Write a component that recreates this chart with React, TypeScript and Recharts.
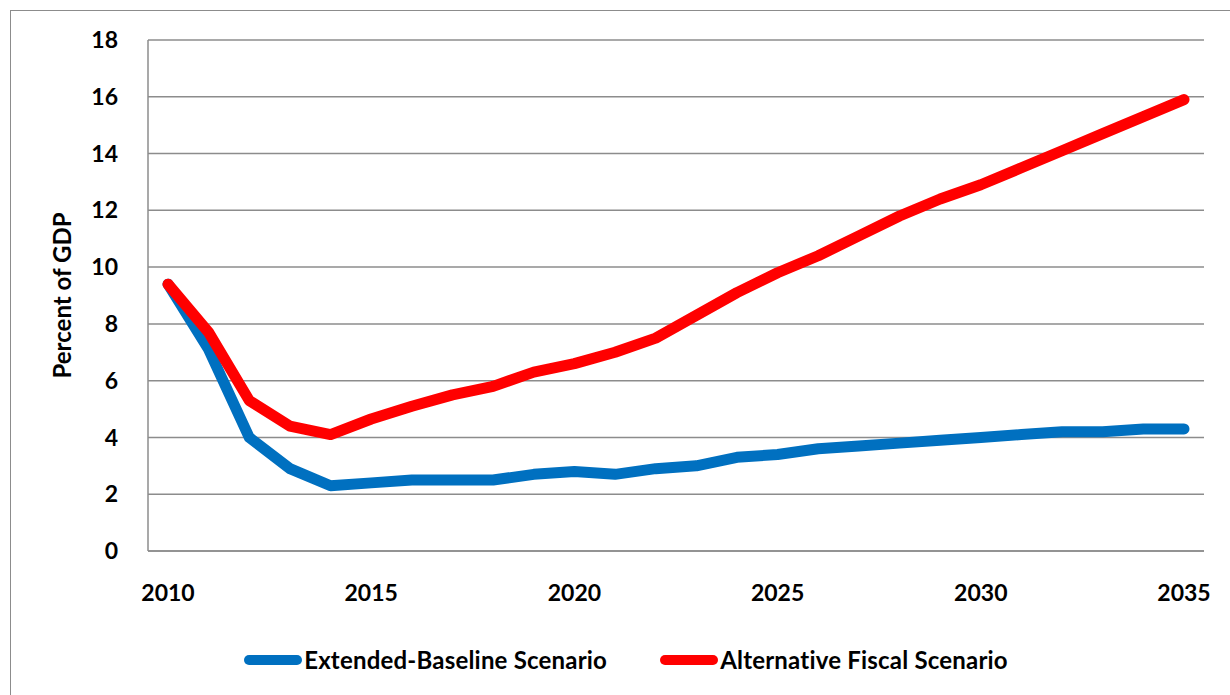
import React from "react";
import { LineChart, Line, XAxis, YAxis, CartesianGrid, Legend } from "recharts";

// Deficit projections, percent of GDP
const years = [
  "2010", "2011", "2012", "2013", "2014", "2015", "2016", "2017", "2018",
  "2019", "2020", "2021", "2022", "2023", "2024", "2025", "2026", "2027",
  "2028", "2029", "2030", "2031", "2032", "2033", "2034", "2035",
];
const extendedBaseline = [
  9.4, 7.1, 4.0, 2.9, 2.3, 2.4, 2.5, 2.5, 2.5, 2.7, 2.8, 2.7, 2.9,
  3.0, 3.3, 3.4, 3.6, 3.7, 3.8, 3.9, 4.0, 4.1, 4.2, 4.2, 4.3, 4.3,
];
const alternativeFiscal = [
  9.4, 7.7, 5.3, 4.4, 4.1, 4.65, 5.1, 5.5, 5.8, 6.3, 6.6, 7.0, 7.5,
  8.3, 9.1, 9.8, 10.4, 11.1, 11.8, 12.4, 12.9, 13.5, 14.1, 14.7, 15.3, 15.9,
];
const yTicks = [0, 2, 4, 6, 8, 10, 12, 14, 16, 18];

const data = years.map((year, i) => ({
  year,
  baseline: extendedBaseline[i],
  alternative: alternativeFiscal[i],
}));

const FONT = "Lato, 'Open Sans', sans-serif";
const BLUE = "#0070C0";
const RED = "#FF0000";
const GRID = "#8c8c8c";

function LegendContent() {
  const items = [
    { label: "Extended-Baseline Scenario", color: BLUE },
    { label: "Alternative Fiscal Scenario", color: RED },
  ];
  return (
    <div
      style={{
        display: "flex",
        justifyContent: "center",
        gap: 53,
        fontFamily: FONT,
        paddingLeft: 22,
      }}
    >
      {items.map((it) => (
        <div key={it.label} style={{ display: "flex", alignItems: "center" }}>
          <span
            style={{
              display: "inline-block",
              width: 58,
              height: 10,
              borderRadius: 5,
              background: it.color,
              marginRight: 2,
            }}
          />
          <span style={{ fontSize: 24, fontWeight: 700, color: "#000", letterSpacing: 0.2 }}>
            {it.label}
          </span>
        </div>
      ))}
    </div>
  );
}

export default function App() {
  return (
    <div
      style={{
        position: "absolute",
        left: 0,
        top: 0,
        width: 1230,
        height: 695,
        overflow: "hidden",
        background: "#fff",
      }}
    >
      {/* outer chart frame, runs off the right and bottom edges */}
      <div
        style={{
          position: "absolute",
          left: 10,
          top: 10,
          width: 1240,
          height: 700,
          border: "1.5px solid #8c8c8c",
        }}
      />
      <div style={{ position: "absolute", left: 0, top: 0 }}>
        <LineChart
          width={1230}
          height={695}
          data={data}
          margin={{ top: 40, right: 26, left: 0, bottom: 84 }}
        >
          <CartesianGrid vertical={false} stroke={GRID} strokeWidth={1.5} />
          <XAxis
            dataKey="year"
            interval={4}
            padding={{ left: 20, right: 20 }}
            axisLine={{ stroke: GRID, strokeWidth: 1.5 }}
            tickLine={false}
            tick={{ fontSize: 23, fontWeight: 700, fill: "#000", fontFamily: FONT }}
            tickMargin={28}
            height={60}
          />
          <YAxis
            domain={[0, 18]}
            ticks={yTicks}
            width={148}
            axisLine={{ stroke: GRID, strokeWidth: 1.5 }}
            tickLine={false}
            tickMargin={24}
            tick={{ fontSize: 23, fontWeight: 700, fill: "#000", fontFamily: FONT }}
            label={{
              value: "Percent of GDP",
              angle: -90,
              position: "insideLeft",
              offset: 62,
              style: { fontSize: 24, fontWeight: 700, fill: "#000", fontFamily: FONT, textAnchor: "middle" },
            }}
          />
          <Legend
            layout="horizontal"
            verticalAlign="middle"
            align="center"
            content={<LegendContent />}
            wrapperStyle={{ position: "absolute", top: 645, left: 0, width: 1230 }}
          />
          <Line
            type="linear"
            dataKey="baseline"
            name="Extended-Baseline Scenario"
            stroke={BLUE}
            strokeWidth={11}
            strokeLinecap="round"
            strokeLinejoin="round"
            dot={false}
            activeDot={false}
            isAnimationActive={false}
          />
          <Line
            type="linear"
            dataKey="alternative"
            name="Alternative Fiscal Scenario"
            stroke={RED}
            strokeWidth={11}
            strokeLinecap="round"
            strokeLinejoin="round"
            dot={false}
            activeDot={false}
            isAnimationActive={false}
          />
        </LineChart>
      </div>
    </div>
  );
}
